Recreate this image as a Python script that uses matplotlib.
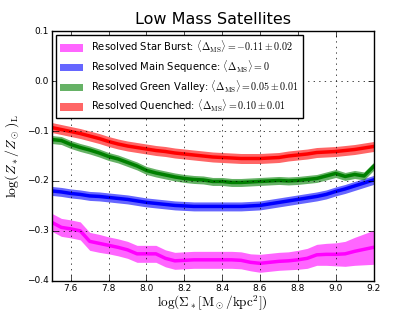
import numpy as np
import matplotlib
matplotlib.use("Agg")
import matplotlib.pyplot as plt
from matplotlib.patches import Patch

plt.style.use("classic")

x = np.round(np.arange(7.5, 9.2001, 0.05), 2)

red = [-0.093, -0.097, -0.101, -0.105, -0.110, -0.115, -0.121, -0.126, -0.130, -0.133,
       -0.136, -0.139, -0.141, -0.144, -0.146, -0.148, -0.150, -0.152, -0.153, -0.154,
       -0.155, -0.155, -0.155, -0.154, -0.153, -0.150, -0.148, -0.146, -0.143, -0.142,
       -0.141, -0.139, -0.137, -0.134, -0.131]
green = [-0.117, -0.119, -0.127, -0.133, -0.138, -0.144, -0.151, -0.156, -0.163, -0.170,
         -0.179, -0.184, -0.188, -0.192, -0.195, -0.197, -0.198, -0.201, -0.201, -0.203,
         -0.203, -0.202, -0.201, -0.200, -0.199, -0.200, -0.199, -0.197, -0.195, -0.190,
         -0.185, -0.191, -0.187, -0.190, -0.171]
blue = [-0.220, -0.222, -0.225, -0.227, -0.230, -0.231, -0.233, -0.235, -0.237, -0.240,
        -0.243, -0.245, -0.247, -0.249, -0.250, -0.251, -0.251, -0.251, -0.251, -0.251,
        -0.251, -0.250, -0.249, -0.246, -0.243, -0.240, -0.237, -0.234, -0.231, -0.227,
        -0.221, -0.216, -0.210, -0.204, -0.198]
magenta = [-0.283, -0.293, -0.296, -0.300, -0.321, -0.325, -0.329, -0.333, -0.338, -0.346,
           -0.346, -0.346, -0.355, -0.360, -0.359, -0.358, -0.358, -0.358, -0.358, -0.358,
           -0.359, -0.363, -0.365, -0.363, -0.361, -0.360, -0.358, -0.355, -0.348, -0.347,
           -0.347, -0.346, -0.341, -0.337, -0.333]

red_err = [0.010] * 35
green_err = [0.008] * 35
blue_err = [0.009] * 35
magenta_err = [0.018, 0.018, 0.018, 0.018, 0.018, 0.018, 0.017, 0.017, 0.017, 0.017,
               0.017, 0.017, 0.017, 0.017, 0.017, 0.017, 0.017, 0.017, 0.017, 0.017,
               0.017, 0.017, 0.018, 0.018, 0.018, 0.018, 0.019, 0.020, 0.021, 0.022,
               0.023, 0.025, 0.028, 0.031, 0.034]

labels = [r"Resolved Star Burst: $\langle\Delta_{\rm MS}\rangle=-0.11\pm0.02$",
          r"Resolved Main Sequence: $\langle\Delta_{\rm MS}\rangle=0$",
          r"Resolved Green Valley: $\langle\Delta_{\rm MS}\rangle=0.05\pm0.01$",
          r"Resolved Quenched: $\langle\Delta_{\rm MS}\rangle=0.10\pm0.01$"]
colors = ["#ff00ff", "#0000ff", "#008000", "#ff0000"]
series = [magenta, blue, green, red]
errors = [magenta_err, blue_err, green_err, red_err]

fig = plt.figure(figsize=(4.15, 3.12), dpi=100)
ax = fig.add_axes([0.125, 0.1, 0.775, 0.8])

for y, e, c in zip(series, errors, colors):
    y = np.array(y)
    e = np.array(e)
    ax.fill_between(x, y - e, y + e, color=c, alpha=0.6, lw=0)
    ax.plot(x, y, color=c, lw=2.5)

handles = [Patch(color=c, alpha=0.6, lw=0) for c in colors]
ax.legend(handles, labels, loc="upper left", fontsize=7.2, handlelength=2.3,
          handleheight=0.8, borderpad=0.4, labelspacing=0.35, handletextpad=0.8,
          borderaxespad=0.4)

ax.set_xlim(7.5, 9.2)
ax.set_ylim(-0.4, 0.1)
ax.set_xticks(np.arange(7.6, 9.21, 0.2))
ax.set_yticks([-0.4, -0.3, -0.2, -0.1, 0.0, 0.1])
ax.tick_params(labelsize=6.5, pad=2.5)
ax.grid(True)
ax.set_title("Low Mass Satellites", fontsize=11.5)
ax.set_xlabel(r"$\log(\Sigma_*[{\rm M_\odot/kpc^2}])$", fontsize=9.5, labelpad=0)
ax.set_ylabel(r"$\log(Z_*/Z_\odot)_{\rm L}$", fontsize=10, labelpad=4)

fig.savefig("out.png", dpi=100)
